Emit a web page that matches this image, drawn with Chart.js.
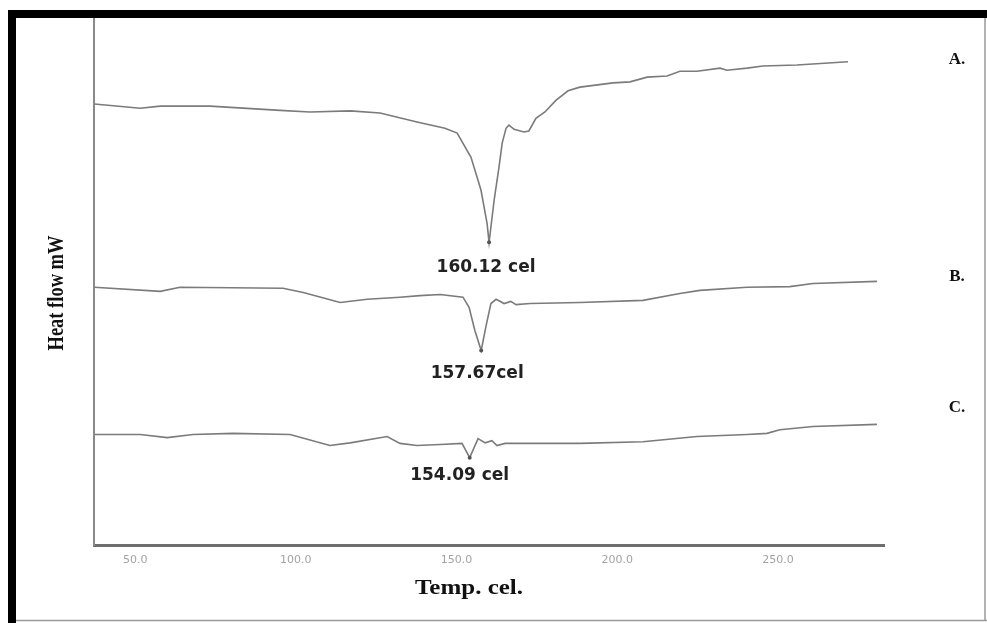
<!DOCTYPE html>
<html>
<head>
<meta charset="utf-8">
<title>DSC thermograms</title>
<script src="https://cdn.jsdelivr.net/npm/chart.js@4.4.1/dist/chart.umd.min.js"></script>
<style>
  html, body { margin: 0; padding: 0; background: #fff; }
  #wrap { position: relative; width: 987px; height: 623px; }
</style>
</head>
<body>
<div id="wrap"><canvas id="dsc" width="987" height="623"></canvas></div>
<script>
// temperature (cel) / heat flow (mW, offset per trace) readings
const tempA = [37.3, 51.6, 57.8, 73.3, 95.1, 104.4, 116.9, 126.2, 137.7, 146.4, 150.2, 154.5, 157.6, 159.5, 160.12,
  161.7, 163.2, 164.2, 165.4, 166.3, 167.9, 171.0, 172.5, 174.7, 177.5, 180.9, 184.7, 188.4, 198.7, 204.0,
  209.3, 215.5, 219.5, 224.8, 232.0, 234.1, 240.4, 245.3, 255.9, 271.8];
const flowA = [8.37, 8.29, 8.33, 8.33, 8.25, 8.22, 8.24, 8.20, 8.03, 7.91, 7.82, 7.36, 6.74, 6.11, 5.75,
  6.55, 7.17, 7.63, 7.91, 7.97, 7.89, 7.84, 7.86, 8.10, 8.22, 8.44, 8.62, 8.69, 8.77, 8.79,
  8.88, 8.90, 8.99, 8.99, 9.05, 9.01, 9.05, 9.09, 9.11, 9.17];

const tempB = [37.3, 57.8, 64.0, 96.0, 102.3, 113.8, 122.2, 132.4, 138.6, 144.9, 152.0, 153.9, 155.7, 157.67,
  159.2, 160.7, 162.3, 164.8, 166.9, 168.5, 172.9, 188.4, 208.0, 219.5, 225.7, 240.4, 253.7, 260.9, 280.8];
const flowB = [4.90, 4.82, 4.90, 4.88, 4.80, 4.61, 4.67, 4.71, 4.74, 4.76, 4.71, 4.52, 4.08, 3.70,
  4.17, 4.59, 4.67, 4.59, 4.63, 4.57, 4.59, 4.61, 4.65, 4.78, 4.84, 4.90, 4.91, 4.97, 5.01];

const tempC = [37.3, 51.6, 60.0, 68.0, 80.5, 98.2, 110.6, 116.9, 128.4, 132.4, 137.7, 144.9, 151.7, 154.09,
  156.7, 158.9, 161.0, 162.6, 165.1, 176.0, 188.4, 208.0, 224.8, 240.4, 246.6, 250.6, 260.9, 280.8];
const flowC = [2.11, 2.11, 2.05, 2.11, 2.13, 2.11, 1.90, 1.95, 2.07, 1.94, 1.90, 1.92, 1.94, 1.67,
  2.03, 1.95, 1.99, 1.90, 1.94, 1.94, 1.94, 1.97, 2.07, 2.11, 2.13, 2.20, 2.26, 2.30];

const xTicks = [50, 100, 150, 200, 250];
const traceNames = ['A.', 'B.', 'C.'];
const peakTemps = [160.12, 157.67, 154.09];
const peakLabels = ['160.12 cel', '157.67cel', '154.09 cel'];

const toPoints = (t, f) => t.map((x, i) => ({ x: x, y: f[i] }));

const traceColor = '#7b7b7b';

function traceSet(name, t, f, peak) {
    return {
        label: name,
        data: toPoints(t, f),
        borderColor: traceColor,
        borderWidth: 1.6,
        tension: 0,
        fill: false,
        pointRadius: ctx => (ctx.raw && ctx.raw.x === peak ? 2 : 0),
        pointBackgroundColor: '#555',
        pointBorderWidth: 0
    };
}

// frame, axis titles, trace letters and peak labels
const decorations = {
    id: 'decorations',
    beforeDraw(chart) {
        const c = chart.ctx;
        c.save();
        c.fillStyle = '#fff';
        c.fillRect(0, 0, chart.width, chart.height);
        c.restore();
    },
    afterDraw(chart) {
        const c = chart.ctx;
        const area = chart.chartArea;
        const xs = chart.scales.x;
        const ys = chart.scales.y;
        c.save();

        // outer frame: heavy left/top, thin grey right/bottom
        c.fillStyle = '#000';
        c.fillRect(8, 10, 8, chart.height - 10);
        c.fillRect(8, 10, chart.width - 8, 8);
        c.strokeStyle = '#9a9a9a';
        c.lineWidth = 1.5;
        c.beginPath();
        c.moveTo(16, chart.height - 2.5);
        c.lineTo(chart.width, chart.height - 2.5);
        c.moveTo(chart.width - 2, 18);
        c.lineTo(chart.width - 2, chart.height - 2.5);
        c.stroke();

        // y title, narrow bold serif
        c.fillStyle = '#111';
        c.textAlign = 'center';
        c.textBaseline = 'middle';
        c.font = 'bold 24px "Liberation Serif", "DejaVu Serif", serif';
        let yt = 'Heat flow mW';
        let w = c.measureText(yt).width;
        c.save();
        c.translate(area.left - 37, 293);
        c.rotate(-Math.PI / 2);
        c.scale(115 / w, 1);
        c.fillText(yt, 0, 0);
        c.restore();

        // x title
        c.font = 'bold 20px "Liberation Serif", "DejaVu Serif", serif';
        let xt = 'Temp. cel.';
        w = c.measureText(xt).width;
        c.save();
        c.translate(469, area.bottom + 43);
        c.scale(108 / w, 1);
        c.fillText(xt, 0, 0);
        c.restore();

        // trace letters on the right
        c.font = 'bold 17px "Liberation Serif", "DejaVu Serif", serif';
        const letterY = [ys.getPixelForValue(9.22), ys.getPixelForValue(5.10), ys.getPixelForValue(2.62)];
        traceNames.forEach((n, i) => c.fillText(n, area.right + 73, letterY[i]));

        // peak labels under each dip
        const shift = [[-3, 25], [-4, 23], [-10, 18]];
        c.font = 'bold 17px "DejaVu Sans", Verdana, sans-serif';
        c.fillStyle = '#222';
        chart.data.datasets.forEach((ds, i) => {
            const pt = ds.data.find(p => p.x === peakTemps[i]);
            const px = xs.getPixelForValue(pt.x) + shift[i][0];
            const py = ys.getPixelForValue(pt.y) + shift[i][1];
            c.fillText(peakLabels[i], px, py);
        });
        c.restore();
    }
};

new Chart(document.getElementById('dsc'), {
    type: 'line',
    data: {
        datasets: [
            traceSet(traceNames[0], tempA, flowA, peakTemps[0]),
            traceSet(traceNames[1], tempB, flowB, peakTemps[1]),
            traceSet(traceNames[2], tempC, flowC, peakTemps[2])
        ]
    },
    options: {
        responsive: false,
        animation: false,
        devicePixelRatio: 1,
        layout: { padding: { left: 94, right: 103, top: 18, bottom: 48 } },
        plugins: { legend: { display: false }, tooltip: { enabled: false } },
        scales: {
            x: {
                type: 'linear',
                min: 37.2,
                max: 283,
                afterBuildTicks: axis => { axis.ticks = xTicks.map(v => ({ value: v })); },
                ticks: {
                    padding: 8,
                    color: '#a3a3a3',
                    font: { family: '"DejaVu Sans", Verdana, sans-serif', size: 11 },
                    callback: v => Number(v).toFixed(1),
                    maxRotation: 0
                },
                grid: { display: false, drawTicks: false },
                border: { display: true, color: '#6e6e6e', width: 3 }
            },
            y: {
                min: 0,
                max: 10,
                ticks: { display: false },
                grid: { display: false, drawTicks: false },
                border: { display: true, color: '#8a8a8a', width: 2 }
            }
        }
    },
    plugins: [decorations]
});
</script>
</body>
</html>
